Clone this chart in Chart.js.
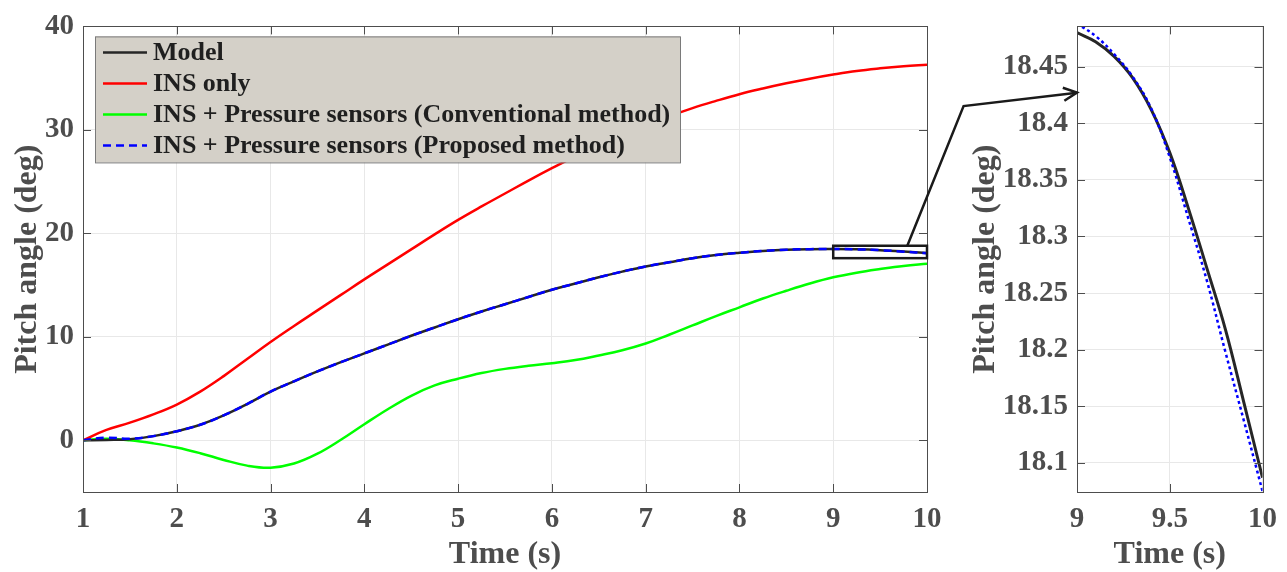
<!DOCTYPE html>
<html>
<head>
<meta charset="utf-8">
<script src="https://cdn.jsdelivr.net/npm/chart.js@4.4.0/dist/chart.umd.min.js"></script>
<style>
	html, body { margin: 0; padding: 0; background: #fff; }
	#wrap { position: relative; width: 1287px; height: 572px; overflow: hidden; }
	#mainChart { position: absolute; left: 0; top: 0; }
	#zoomChart { position: absolute; left: 960px; top: 0; }
	#overlay { position: absolute; left: 0; top: 0; pointer-events: none; }
</style>
</head>
<body>
<div id="wrap">
	<canvas id="mainChart" width="960" height="572"></canvas>
	<canvas id="zoomChart" width="327" height="572"></canvas>
	<canvas id="overlay" width="1287" height="572"></canvas>
</div>
<script>
// main panel, time in s (0.25 s steps)
var timeMain = [1, 1.25, 1.5, 1.75, 2, 2.25, 2.5, 2.75, 3, 3.25, 3.5, 3.75, 4, 4.25, 4.5, 4.75, 5, 5.25, 5.5, 5.75, 6, 6.25, 6.5, 6.75, 7, 7.25, 7.5, 7.75, 8, 8.25, 8.5, 8.75, 9, 9.25, 9.5, 9.75, 10];
var modelMain = [0, 0.03, 0.1, 0.4, 0.87, 1.5, 2.4, 3.5, 4.7, 5.7, 6.65, 7.55, 8.4, 9.25, 10.1, 10.9, 11.7, 12.45, 13.15, 13.85, 14.55, 15.15, 15.75, 16.3, 16.8, 17.2, 17.6, 17.9, 18.12, 18.3, 18.42, 18.47, 18.48, 18.45, 18.374, 18.245, 18.087];
var insOnly = [0, 1.0, 1.7, 2.5, 3.45, 4.7, 6.2, 7.85, 9.5, 11.05, 12.55, 14.05, 15.55, 17.0, 18.45, 19.9, 21.3, 22.6, 23.85, 25.1, 26.3, 27.45, 28.5, 29.5, 30.4, 31.3, 32.1, 32.8, 33.45, 34.0, 34.5, 34.95, 35.35, 35.7, 35.95, 36.15, 36.3];
var conventional = [0, 0.15, 0, -0.3, -0.7, -1.25, -1.9, -2.45, -2.65, -2.25, -1.3, 0.05, 1.55, 3.0, 4.3, 5.3, 5.95, 6.5, 6.9, 7.2, 7.45, 7.75, 8.2, 8.7, 9.35, 10.2, 11.1, 12.0, 12.85, 13.7, 14.45, 15.15, 15.75, 16.2, 16.55, 16.85, 17.05];
var proposedMain = [0, 0.25, 0.15, 0.4, 0.87, 1.5, 2.4, 3.5, 4.7, 5.7, 6.65, 7.55, 8.4, 9.25, 10.1, 10.9, 11.7, 12.45, 13.15, 13.85, 14.55, 15.15, 15.75, 16.3, 16.8, 17.2, 17.6, 17.9, 18.12, 18.3, 18.42, 18.47, 18.487, 18.452, 18.37, 18.23, 18.075];

// zoomed panel (9 s to 10 s)
var timeZoom = [9, 9.1, 9.2, 9.3, 9.4, 9.5, 9.6, 9.7, 9.8, 9.9, 10];
var modelZoom = [18.48, 18.472, 18.459, 18.44, 18.412, 18.374, 18.325, 18.272, 18.218, 18.153, 18.087];
var proposedZoom = [18.488, 18.477, 18.461, 18.441, 18.413, 18.37, 18.316, 18.261, 18.198, 18.137, 18.075];

var seriesLabels = ["Model", "INS only", "INS + Pressure sensors (Conventional method)", "INS + Pressure sensors (Proposed method)"];

// zoom box and arrow, in data units
var zoomBoxX = [9, 10];
var zoomBoxY = [17.6, 18.8];
var arrowTail = [9.79, 18.8];
var arrowBend = [10.39, 32.3];
var arrowHead = [9, 18.427];

var FONT = '"Liberation Serif", "Times New Roman", serif';
var AXIS_GREY = "#4d4d4d";

function pts(xs, ys) {
	return xs.map(function (x, i) {
		return { x: x, y: ys[i] };
	});
}

// box round the axes with the tick marks pointing inwards
var boxPlugin = {
	id: "boxPlugin",
	afterDraw: function (chart) {
		var ctx = chart.ctx;
		var a = chart.chartArea;
		var sx = chart.scales.x;
		var sy = chart.scales.y;
		var len = 8;
		ctx.save();
		ctx.strokeStyle = AXIS_GREY;
		ctx.lineWidth = 1;
		ctx.strokeRect(Math.round(a.left) + 0.5, Math.round(a.top) + 0.5, Math.round(a.right - a.left), Math.round(a.bottom - a.top));
		ctx.beginPath();
		sx.ticks.forEach(function (t) {
			var px = Math.round(sx.getPixelForValue(t.value)) + 0.5;
			ctx.moveTo(px, a.bottom);
			ctx.lineTo(px, a.bottom - len);
			ctx.moveTo(px, a.top);
			ctx.lineTo(px, a.top + len);
		});
		sy.ticks.forEach(function (t) {
			var py = Math.round(sy.getPixelForValue(t.value)) + 0.5;
			ctx.moveTo(a.left, py);
			ctx.lineTo(a.left + len, py);
			ctx.moveTo(a.right, py);
			ctx.lineTo(a.right - len, py);
		});
		ctx.stroke();
		ctx.restore();
	},
};

var legendPlugin = {
	id: "boxLegend",
	afterDraw: function (chart) {
		var ctx = chart.ctx;
		var a = chart.chartArea;
		var left = a.left + 12;
		var top = a.top + 10;
		var w = 585;
		var h = 126;
		ctx.save();
		ctx.fillStyle = "#d4d0c8";
		ctx.fillRect(left, top, w, h);
		ctx.strokeStyle = "#7a7a7a";
		ctx.lineWidth = 1;
		ctx.strokeRect(left + 0.5, top + 0.5, w, h);
		ctx.font = "bold 26px " + FONT;
		ctx.textBaseline = "middle";
		ctx.textAlign = "left";
		seriesLabels.forEach(function (label, i) {
			var ds = chart.data.datasets[i];
			var y = top + 16 + i * 31;
			ctx.beginPath();
			ctx.strokeStyle = ds.borderColor;
			ctx.lineWidth = 2.5;
			ctx.setLineDash(ds.borderDash || []);
			ctx.moveTo(left + 8, y);
			ctx.lineTo(left + 52, y);
			ctx.stroke();
			ctx.setLineDash([]);
			ctx.fillStyle = "#1f1f1f";
			ctx.fillText(label, left + 58, y + 1);
		});
		ctx.restore();
	},
};

function axisOptions(min, max, step, title, fitFn, extra) {
	var o = {
		type: "linear",
		min: min,
		max: max,
		border: { display: false },
		grid: { color: "#e8e8e8", lineWidth: 1, drawTicks: false },
		ticks: {
			stepSize: step,
			includeBounds: false,
			color: AXIS_GREY,
			font: { family: FONT, size: 29, weight: "bold" },
			callback: function (v) {
				return String(Number(v.toFixed(3)));
			},
		},
		title: {
			display: true,
			text: title,
			color: AXIS_GREY,
			font: { family: FONT, size: 32, weight: "bold", lineHeight: 1.1 },
			padding: { top: 0, bottom: 0 },
		},
		afterFit: fitFn,
	};
	if (extra) extra(o);
	return o;
}

var lineStyle = { tension: 0.4, cubicInterpolationMode: "default" };

var mainChart = new Chart(document.getElementById("mainChart").getContext("2d"), {
	type: "line",
	data: {
		datasets: [
			{ label: seriesLabels[0], data: pts(timeMain, modelMain), borderColor: "#262626", borderWidth: 2.5, order: 2 },
			{ label: seriesLabels[1], data: pts(timeMain, insOnly), borderColor: "#ff0000", borderWidth: 2.5, order: 3 },
			{ label: seriesLabels[2], data: pts(timeMain, conventional), borderColor: "#00ff00", borderWidth: 2.5, order: 4 },
			{ label: seriesLabels[3], data: pts(timeMain, proposedMain), borderColor: "#0000ff", borderWidth: 2.5, borderDash: [8, 5], order: 1 },
		],
	},
	options: {
		responsive: false,
		animation: false,
		parsing: false,
		elements: { point: { radius: 0 }, line: lineStyle },
		layout: { padding: { top: 22, right: 33, bottom: 0, left: 0 } },
		plugins: { legend: { display: false }, tooltip: { enabled: false } },
		scales: {
			x: axisOptions(1, 10, 1, "Time (s)", function (s) { s.height = 80; }, function (o) { o.ticks.padding = 10; }),
			y: axisOptions(-5, 40, 10, "Pitch angle (deg)", function (s) { s.width = 83; }, function (o) {
				o.ticks.padding = 9;
				o.title.padding = { top: 10.5, bottom: 0 };
			}),
		},
	},
	plugins: [boxPlugin, legendPlugin],
});

var zoomChart = new Chart(document.getElementById("zoomChart").getContext("2d"), {
	type: "line",
	data: {
		datasets: [
			{ label: seriesLabels[0], data: pts(timeZoom, modelZoom), borderColor: "#262626", borderWidth: 3, order: 2 },
			{ label: seriesLabels[3], data: pts(timeZoom, proposedZoom), borderColor: "#0000ff", borderWidth: 2.5, borderDash: [3, 3], order: 1 },
		],
	},
	options: {
		responsive: false,
		animation: false,
		parsing: false,
		elements: { point: { radius: 0 }, line: lineStyle },
		layout: { padding: { top: 23, right: 15, bottom: 0, left: 0 } },
		plugins: { legend: { display: false }, tooltip: { enabled: false } },
		scales: {
			x: axisOptions(9, 10, 0.5, "Time (s)", function (s) { s.height = 80; }, function (o) { o.ticks.padding = 10; }),
			y: axisOptions(18.0743, 18.4855, 0.05, "Pitch angle (deg)", function (s) { s.width = 117; }, function (o) {
				o.ticks.padding = 9;
				o.title.padding = { top: 8, bottom: 0 };
			}),
		},
	},
	plugins: [boxPlugin],
});

function drawOverlay() {
	var ctx = document.getElementById("overlay").getContext("2d");
	var mx = mainChart.scales.x;
	var my = mainChart.scales.y;
	var zx = zoomChart.scales.x;
	var zy = zoomChart.scales.y;
	var zoomLeft = document.getElementById("zoomChart").offsetLeft;

	ctx.save();
	ctx.strokeStyle = "#1a1a1a";
	ctx.lineWidth = 2.5;
	ctx.lineJoin = "miter";

	var x0 = mx.getPixelForValue(zoomBoxX[0]);
	var x1 = mx.getPixelForValue(zoomBoxX[1]);
	var y0 = my.getPixelForValue(zoomBoxY[1]);
	var y1 = my.getPixelForValue(zoomBoxY[0]);
	ctx.strokeRect(x0, y0, x1 - x0, y1 - y0);

	var tx = mx.getPixelForValue(arrowTail[0]);
	var ty = my.getPixelForValue(arrowTail[1]);
	var bx = mx.getPixelForValue(arrowBend[0]);
	var by = my.getPixelForValue(arrowBend[1]);
	var hx = zoomLeft + zx.getPixelForValue(arrowHead[0]);
	var hy = zy.getPixelForValue(arrowHead[1]);

	ctx.beginPath();
	ctx.moveTo(tx, ty);
	ctx.lineTo(bx, by);
	ctx.lineTo(hx, hy);
	ctx.stroke();

	var ang = Math.atan2(hy - by, hx - bx);
	var len = 15;
	ctx.beginPath();
	ctx.moveTo(hx - len * Math.cos(ang - 0.45), hy - len * Math.sin(ang - 0.45));
	ctx.lineTo(hx, hy);
	ctx.lineTo(hx - len * Math.cos(ang + 0.45), hy - len * Math.sin(ang + 0.45));
	ctx.stroke();
	ctx.restore();
}

drawOverlay();
</script>
</body>
</html>
